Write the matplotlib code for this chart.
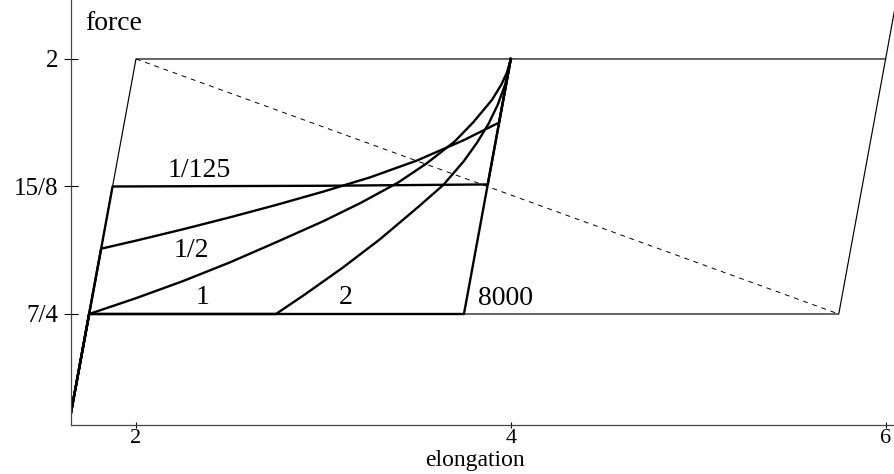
import matplotlib
matplotlib.use("Agg")
import matplotlib.pyplot as plt

plt.rcParams["font.family"] = ["Liberation Serif", "DejaVu Serif"]

# loading curves, one per rate, each starting on the elastic branch
rate_labels = ["1/125", "1/2", "1", "2", "8000"]
curve_elong = {
    "1/125": [1.65, 1.875, 3.0, 3.877, 4.0],
    "1/2": [1.65, 1.814, 2.0, 2.25, 2.5, 2.75, 3.0, 3.25, 3.5, 3.75, 3.937, 4.0],
    "1": [1.65, 1.75, 2.0, 2.25, 2.5, 2.75, 3.0, 3.2, 3.4, 3.55, 3.7, 3.8,
          3.9, 3.95, 3.98, 4.0],
    "2": [1.65, 1.75, 2.747, 2.9, 3.1, 3.3, 3.5, 3.64, 3.75, 3.82, 3.88,
          3.93, 3.97, 4.0],
    "8000": [1.65, 1.75, 3.75, 4.0],
}
curve_force = {
    "1/125": [1.65, 1.875, 1.8757, 1.877, 2.0],
    "1/2": [1.65, 1.814, 1.8219, 1.833, 1.8447, 1.857, 1.870, 1.884, 1.9005,
            1.9205, 1.9376, 2.0],
    "1": [1.65, 1.75, 1.7655, 1.7822, 1.8005, 1.8205, 1.841, 1.859, 1.879,
          1.8975, 1.919, 1.938, 1.960, 1.975, 1.987, 2.0],
    "2": [1.65, 1.75, 1.75, 1.769, 1.795, 1.823, 1.854, 1.8765, 1.900, 1.918,
          1.936, 1.955, 1.975, 2.0],
    "8000": [1.65, 1.75, 1.75, 2.0],
}

# envelope: elastic branch, upper plateau, lower plateau and unloading branch
upper_elong = [1.65, 2.0, 6.0]
upper_force = [1.65, 2.0, 2.0]
lower_elong = [1.75, 5.75, 6.06]
lower_force = [1.75, 1.75, 2.06]
diag_elong = [2.0, 5.75]
diag_force = [2.0, 1.75]

xticks = [2, 4, 6]
yticks = [7 / 4, 15 / 8, 2]
ytick_labels = ["7/4", "15/8", "2"]

fig = plt.figure(figsize=(8.95, 4.74), dpi=100)
ax = fig.add_axes([0.0793, 0.1034, 0.9207, 0.8966])

ax.plot(upper_elong, upper_force, color="black", lw=0.85)
ax.plot(lower_elong, lower_force, color="black", lw=0.85)
ax.plot(diag_elong, diag_force, color="black", lw=0.7, dashes=(5, 5))

for rate in rate_labels:
    ax.plot(curve_elong[rate], curve_force[rate], color="black", lw=1.7,
            solid_joinstyle="round")

label_pos = {
    "1/125": (2.336, 1.8843, "center"),
    "1/2": (2.297, 1.8062, "center"),
    "1": (2.354, 1.7598, "center"),
    "2": (3.121, 1.7598, "center"),
    "8000": (3.825, 1.7588, "left"),
}
for rate in rate_labels:
    x, y, ha = label_pos[rate]
    ax.text(x, y, rate, ha=ha, va="baseline", fontsize=20)

ax.text(1.728, 2.0284, "force", ha="left", va="baseline", fontsize=20)

ax.set_xlim(1.6531, 6.0501)
ax.set_ylim(1.6412, 2.0578)
ax.set_xticks(xticks)
ax.set_xticklabels([str(t) for t in xticks], fontsize=16)
ax.set_yticks(yticks)
ax.set_yticklabels(ytick_labels, fontsize=18)
ax.tick_params(axis="x", direction="inout", length=4.5, width=0.8, pad=0.5)
ax.tick_params(axis="y", direction="inout", length=9.5, width=0.8, pad=4)
ax.set_xlabel("elongation", fontsize=17)
ax.xaxis.set_label_coords(0.49, -0.097)
ax.xaxis.label.set_va("baseline")

for side in ["top", "right"]:
    ax.spines[side].set_visible(False)
for side in ["left", "bottom"]:
    ax.spines[side].set_linewidth(0.9)
    ax.spines[side].set_color("#444444")

fig.savefig("out.png", dpi=100)
